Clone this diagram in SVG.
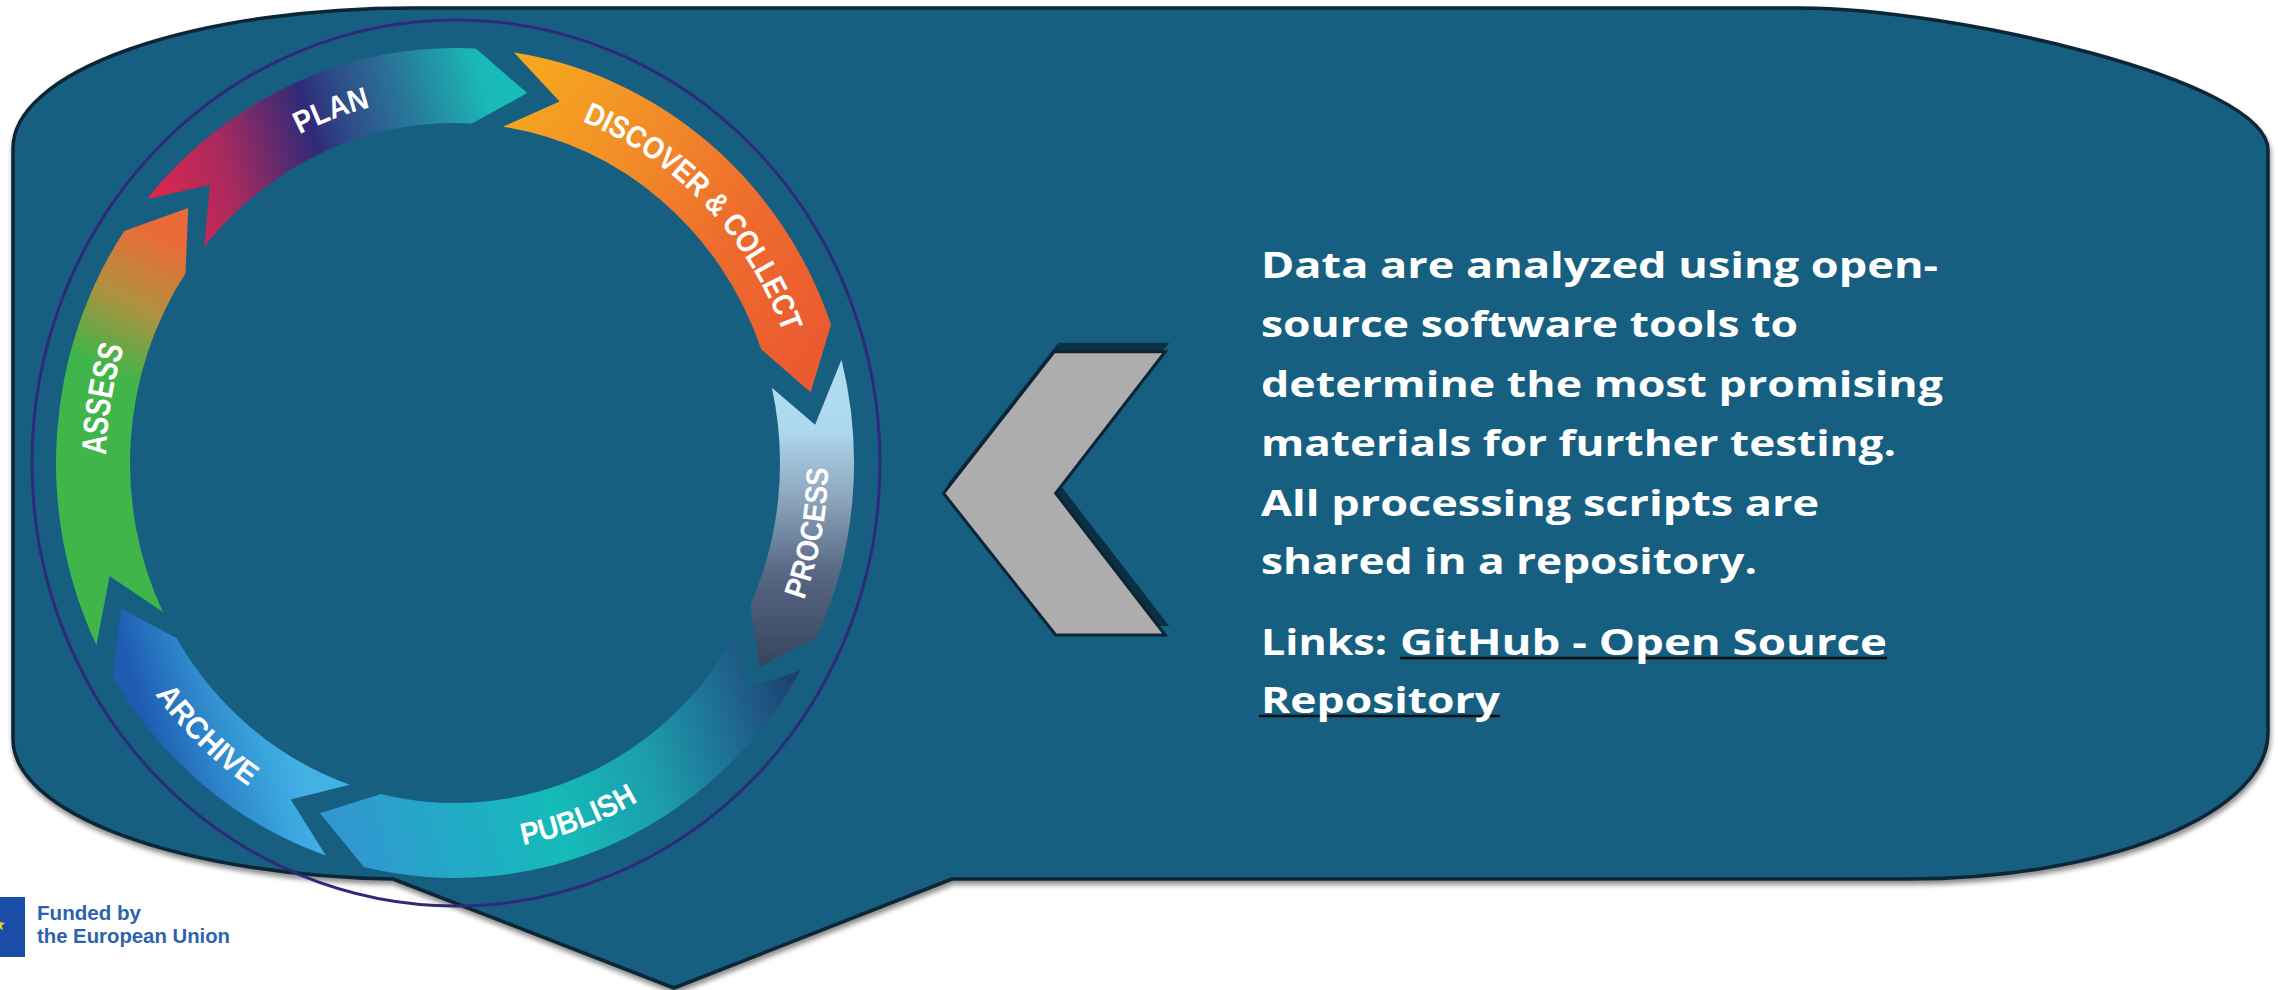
<svg xmlns="http://www.w3.org/2000/svg" width="2278" height="990" viewBox="0 0 2278 990">
  <defs>
    <style>
      .lbl{font-family:"Liberation Sans",Arial,sans-serif;font-weight:700;font-size:31px;fill:#ffffff}
      .body{font-family:"Open Sans","Liberation Sans",sans-serif;font-weight:700;font-size:35px;fill:#ffffff}
      .ul{stroke:#0d0d0d;stroke-width:2.5}
      .eu{font-family:"Liberation Sans",Arial,sans-serif;font-weight:700;font-size:21px;fill:#2d63ae}
      .seg{stroke:none}
    </style>
    <filter id="shadow" x="-3%" y="-5%" width="106%" height="115%">
      <feDropShadow dx="1" dy="4" stdDeviation="2.5" flood-color="#000000" flood-opacity="0.45"/>
    </filter>
    <linearGradient id="gAssess" gradientUnits="userSpaceOnUse" x1="90" y1="430" x2="185" y2="250">
      <stop offset="0" stop-color="#3fb54a"/>
      <stop offset="0.3" stop-color="#3fb54a"/>
      <stop offset="0.65" stop-color="#b0913f"/>
      <stop offset="1" stop-color="#ea6b38"/>
    </linearGradient>
    <linearGradient id="gPlan" gradientUnits="userSpaceOnUse" x1="145" y1="200" x2="527" y2="93">
      <stop offset="0" stop-color="#e3264d"/>
      <stop offset="0.22" stop-color="#a82a5e"/>
      <stop offset="0.45" stop-color="#2f2a78"/>
      <stop offset="0.55" stop-color="#2e4e8a"/>
      <stop offset="0.7" stop-color="#297799"/>
      <stop offset="0.9" stop-color="#1ab9b7"/>
      <stop offset="1" stop-color="#18bdb8"/>
    </linearGradient>
    <linearGradient id="gDiscover" gradientUnits="userSpaceOnUse" x1="515" y1="90" x2="830" y2="330">
      <stop offset="0" stop-color="#f6a71e"/>
      <stop offset="0.3" stop-color="#f28f28"/>
      <stop offset="0.65" stop-color="#ee6c2d"/>
      <stop offset="1" stop-color="#eb5a2f"/>
    </linearGradient>
    <linearGradient id="gProcess" gradientUnits="userSpaceOnUse" x1="0" y1="350" x2="0" y2="670">
      <stop offset="0" stop-color="#b2ddf3"/>
      <stop offset="0.25" stop-color="#add8ee"/>
      <stop offset="0.45" stop-color="#8fa8c0"/>
      <stop offset="0.7" stop-color="#566783"/>
      <stop offset="1" stop-color="#35425c"/>
    </linearGradient>
    <linearGradient id="gPublish" gradientUnits="userSpaceOnUse" x1="320" y1="830" x2="810" y2="680">
      <stop offset="0" stop-color="#3494d2"/>
      <stop offset="0.2" stop-color="#25a6c9"/>
      <stop offset="0.45" stop-color="#15bbb9"/>
      <stop offset="0.65" stop-color="#1c9eab"/>
      <stop offset="0.82" stop-color="#1f6c93"/>
      <stop offset="1" stop-color="#1d376a"/>
    </linearGradient>
    <linearGradient id="gArchive" gradientUnits="userSpaceOnUse" x1="150" y1="740" x2="280" y2="700">
      <stop offset="0" stop-color="#1f5bb1"/>
      <stop offset="0.45" stop-color="#2f8acd"/>
      <stop offset="0.8" stop-color="#3aa6de"/>
      <stop offset="1" stop-color="#44b0e4"/>
    </linearGradient>
    <!-- label baselines: clockwise arcs read outward, counter-clockwise arcs read inward -->
    <path id="pPlan" d="M 206.8 203.8 A 351 366.5 0 0 1 485.6 97.9"/>
    <path id="pDiscover" d="M 515.9 102.1 A 351 366.5 0 0 1 800.7 399.4"/>
    <path id="pAssess" d="M 127.1 587.7 A 349 364.5 0 0 1 187.7 228.7"/>
    <path id="pProcess" d="M 737.4 716.8 A 373 388.5 0 0 0 807.3 335.2"/>
    <path id="pPublish" d="M 388.9 845.4 A 373 388.5 0 0 0 739.9 713.8"/>
    <path id="pArchive" d="M 97.7 574.7 A 373 388.5 0 0 0 369.2 841.1"/>
  </defs>

  <!-- speech-bubble panel -->
  <g id="callout">
    <path d="M 413 8 L 1800 8 C 1950 8 2268 80 2268 150 L 2268 733 A 360 146 0 0 1 1908 879 L 952 879 L 674 988 L 393 879 A 400 140 0 0 1 13 739 L 13 148 A 400 140 0 0 1 413 8 Z"
          fill="#175f81" stroke="#0c2636" stroke-width="3.5" stroke-linejoin="round" filter="url(#shadow)"/>
  </g>

  <!-- data lifecycle ring -->
  <g id="lifecycle">
    <ellipse id="ring-outline" cx="456" cy="463" rx="424" ry="443" fill="none" stroke="#2d2a7c" stroke-width="3"/>
    <g id="seg-assess">
      <path class="seg" fill="url(#gAssess)" d="M 96.4 644.9 A 399 415 0 0 1 124.2 230.9 L 188.1 208.0 L 185.6 272.9 A 325 340 0 0 0 162.9 612.1 L 109.6 575.9 Z"/>
      <text class="lbl" text-anchor="middle" style="font-size:35px"><textPath href="#pAssess" startOffset="50%" textLength="110" lengthAdjust="spacingAndGlyphs">ASSESS</textPath></text>
    </g>
    <g id="seg-plan">
      <path class="seg" fill="url(#gPlan)" d="M 147.1 199.0 A 399 415 0 0 1 475.9 48.6 L 527.2 93.1 L 472.0 123.5 A 325 340 0 0 0 204.2 246.7 L 210.0 185.1 Z"/>
      <text class="lbl" text-anchor="middle"><textPath href="#pPlan" startOffset="50%" textLength="76" lengthAdjust="spacingAndGlyphs">PLAN</textPath></text>
    </g>
    <g id="seg-discover">
      <path class="seg" fill="url(#gDiscover)" d="M 514.0 52.6 A 399 415 0 0 1 831.1 324.5 L 810.6 392.3 L 761.3 349.5 A 325 340 0 0 0 503.0 126.7 L 559.6 101.6 Z"/>
      <text class="lbl" text-anchor="middle"><textPath href="#pDiscover" startOffset="50%" textLength="300" lengthAdjust="spacingAndGlyphs">DISCOVER &amp; COLLECT</textPath></text>
    </g>
    <g id="seg-process">
      <path class="seg" fill="url(#gProcess)" d="M 841.5 359.8 A 399 415 0 0 1 817.5 636.4 L 759.3 667.5 L 750.3 605.1 A 325 340 0 0 0 771.9 387.7 L 815.1 424.8 Z"/>
      <text class="lbl" text-anchor="middle"><textPath href="#pProcess" startOffset="50%" textLength="135" lengthAdjust="spacingAndGlyphs">PROCESS</textPath></text>
    </g>
    <g id="seg-publish">
      <path class="seg" fill="url(#gPublish)" d="M 800.5 670.5 A 399 415 0 0 1 363.9 867.0 L 320.0 813.2 L 380.8 794.0 A 325 340 0 0 0 736.5 633.0 L 745.3 688.6 Z"/>
      <text class="lbl" text-anchor="middle"><textPath href="#pPublish" startOffset="50%" textLength="124" lengthAdjust="spacingAndGlyphs">PUBLISH</textPath></text>
    </g>
    <g id="seg-archive">
      <path class="seg" fill="url(#gArchive)" d="M 325.8 855.6 A 399 415 0 0 1 113.0 676.7 L 121.1 608.7 L 176.4 638.1 A 325 340 0 0 0 349.7 784.7 L 290.7 799.4 Z"/>
      <text class="lbl" text-anchor="middle"><textPath href="#pArchive" startOffset="50%" textLength="132" lengthAdjust="spacingAndGlyphs">ARCHIVE</textPath></text>
    </g>
  </g>

  <!-- pointer chevron -->
  <g id="connectors">
    <polygon points="943.5,493.3 1054.3,351.7 1165.2,351.7 1055.7,493.3 1165.2,635 1055.7,635" transform="translate(4,-9)" fill="#0b3044"/>
    <polygon points="943.5,493.3 1054.3,351.7 1165.2,351.7 1055.7,493.3 1165.2,635 1055.7,635" fill="#adadad" stroke="#0c2433" stroke-width="3" stroke-linejoin="miter"/>
  </g>

  <!-- description -->
  <g id="description">
    <text class="body" x="1261" y="278" textLength="677" lengthAdjust="spacingAndGlyphs">Data are analyzed using open-</text>
    <text class="body" x="1261" y="337" textLength="537" lengthAdjust="spacingAndGlyphs">source software tools to</text>
    <text class="body" x="1261" y="397" textLength="682" lengthAdjust="spacingAndGlyphs">determine the most promising</text>
    <text class="body" x="1261" y="456" textLength="635" lengthAdjust="spacingAndGlyphs">materials for further testing.</text>
    <text class="body" x="1261" y="516" textLength="558" lengthAdjust="spacingAndGlyphs">All processing scripts are</text>
    <text class="body" x="1261" y="574" textLength="496" lengthAdjust="spacingAndGlyphs">shared in a repository.</text>
    <text class="body" x="1261" y="655" textLength="126" lengthAdjust="spacingAndGlyphs">Links:</text>
    <line class="ul" x1="1400" y1="658" x2="1887" y2="658"/>
    <line class="ul" x1="1259" y1="716" x2="1500" y2="716"/>
    <text class="body" x="1400" y="655" textLength="487" lengthAdjust="spacingAndGlyphs">GitHub - Open Source</text>
    <text class="body" x="1261" y="713" textLength="239" lengthAdjust="spacingAndGlyphs">Repository</text>
  </g>

  <!-- funding logo -->
  <g id="eu-logo">
    <rect x="-40" y="897" width="65" height="60" fill="#1a4ea6"/>
    <polygon points="-1,918 0.6,922.6 5.4,922.7 1.6,925.6 3,930.2 -1,927.5 -5,930.2 -3.6,925.6 -7.4,922.7 -2.6,922.6" fill="#f4d31c"/>
    <text class="eu" x="37" y="920" textLength="104" lengthAdjust="spacingAndGlyphs">Funded by</text>
    <text class="eu" x="37" y="943" textLength="193" lengthAdjust="spacingAndGlyphs">the European Union</text>
  </g>
</svg>
